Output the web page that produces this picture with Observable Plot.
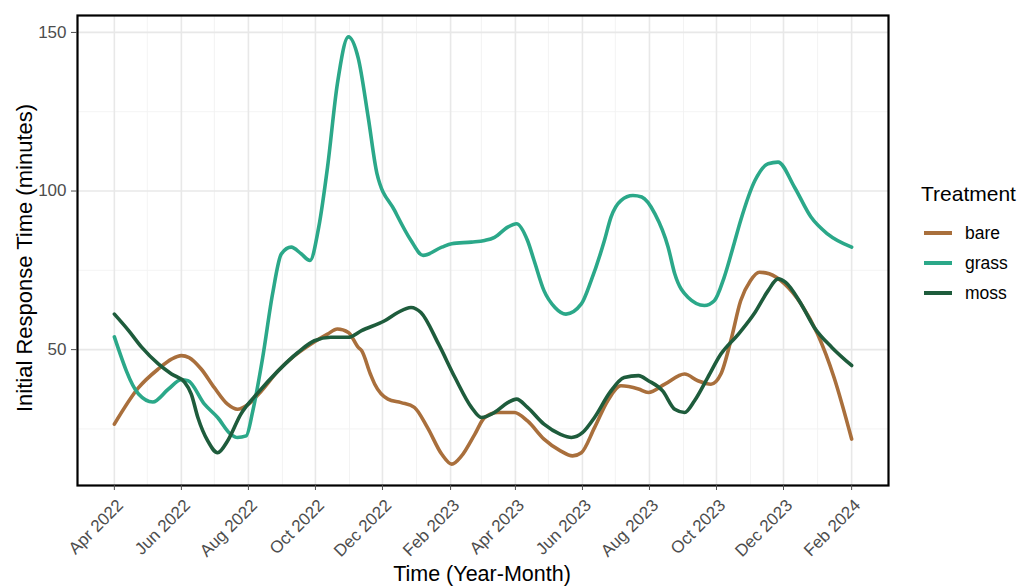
<!DOCTYPE html>
<html>
<head>
<meta charset="utf-8">
<script src="https://cdn.jsdelivr.net/npm/d3@7"></script>
<script src="https://cdn.jsdelivr.net/npm/@observablehq/plot@0.6"></script>
<style>
  html, body { margin: 0; padding: 0; background: #fff; }
  #wrap { position: relative; width: 1022px; height: 587px; overflow: hidden; font-family: "Liberation Sans", Arial, sans-serif; }
  .leg-title { position: absolute; left: 921px; top: 182px; font-size: 21px; color: #000; }
  .leg-item { position: absolute; left: 924px; height: 20px; font-size: 17.5px; color: #000; display: flex; align-items: center; }
  .leg-item span.sw { display: inline-block; width: 28px; height: 4px; margin-right: 13px; }
</style>
</head>
<body>
<div id="wrap"></div>
<script>
// ---- data ----
const treatments = ["bare", "grass", "moss"];
const colors = ["#A96F3C", "#2BA889", "#1E5C3C"];

const bareDates = ["2022-04-01","2022-04-23","2022-05-11","2022-05-23","2022-06-01","2022-06-08","2022-06-19","2022-07-01","2022-07-13","2022-07-22","2022-08-01","2022-08-13","2022-08-28","2022-09-12","2022-09-27","2022-10-12","2022-10-21","2022-10-31","2022-11-09","2022-11-12","2022-11-20","2022-11-24","2022-12-06","2022-12-18","2022-12-30","2023-01-11","2023-01-24","2023-02-02","2023-02-11","2023-02-23","2023-03-04","2023-03-16","2023-03-31","2023-04-12","2023-04-27","2023-05-12","2023-05-23","2023-05-31","2023-06-12","2023-06-24","2023-07-06","2023-07-22","2023-07-31","2023-08-15","2023-09-02","2023-09-14","2023-09-26","2023-10-05","2023-10-14","2023-10-23","2023-11-01","2023-11-09","2023-11-18","2023-12-02","2023-12-17","2024-01-01","2024-01-16","2024-02-01"];
const bareValues = [26.5,38,43.9,47.0,48.1,47.5,43.9,38.0,32.8,31.2,32.8,37,43.3,48.1,51.8,54.9,56.5,55.4,50.7,49.7,42.3,39.1,34.4,33.3,31.8,25.4,17.0,13.9,16.5,23.3,28.6,30.2,30.2,27.5,21.8,18.1,16.5,17.5,25.4,33.9,38.6,37.6,36.5,39.1,42.3,40.2,39.1,42.3,52.8,65.4,71.8,74.4,73.9,70.7,64.4,54.9,41.2,21.8];

const grassDates = ["2022-04-01","2022-04-23","2022-05-06","2022-05-20","2022-06-01","2022-06-07","2022-06-22","2022-07-04","2022-07-16","2022-07-22","2022-07-30","2022-08-05","2022-08-14","2022-08-23","2022-08-31","2022-09-09","2022-09-18","2022-09-26","2022-10-04","2022-10-12","2022-10-21","2022-10-31","2022-11-09","2022-11-18","2022-11-26","2022-12-12","2022-12-27","2023-01-07","2023-01-24","2023-02-02","2023-02-20","2023-03-04","2023-03-13","2023-03-25","2023-04-02","2023-04-12","2023-04-18","2023-04-27","2023-05-07","2023-05-17","2023-05-31","2023-06-09","2023-06-21","2023-06-27","2023-07-06","2023-07-17","2023-07-25","2023-08-06","2023-08-18","2023-08-24","2023-09-05","2023-09-20","2023-09-29","2023-10-08","2023-10-17","2023-10-23","2023-11-05","2023-11-17","2023-11-26","2023-12-11","2023-12-26","2024-01-10","2024-02-01"];
const grassValues = [54,36,33.5,37.5,40.5,40.2,32.8,28.6,23.3,22.3,22.8,30.7,47.5,67.6,80.2,82.3,80.2,78.1,88.6,107.5,133.9,148.6,141.8,123.3,105.5,93.9,84.4,79.7,82.3,83.4,83.9,84.4,85.4,88.6,89.7,84.4,78.1,68.6,63.3,61.2,64.4,71.8,84.4,91.8,97,98.6,98.1,92.8,82.3,73.9,66.5,63.9,65.4,72.8,83.4,90.7,103.3,108.6,109.1,101.2,91.8,86.5,82.3];

const mossDates = ["2022-04-01","2022-04-14","2022-04-26","2022-05-11","2022-05-23","2022-06-04","2022-06-10","2022-06-16","2022-06-25","2022-07-04","2022-07-13","2022-07-25","2022-08-10","2022-08-28","2022-09-15","2022-09-30","2022-10-15","2022-10-31","2022-11-12","2022-12-03","2022-12-15","2022-12-27","2023-01-05","2023-01-21","2023-02-05","2023-02-20","2023-03-01","2023-03-13","2023-03-25","2023-04-02","2023-04-12","2023-04-27","2023-05-12","2023-05-22","2023-06-01","2023-06-12","2023-06-26","2023-07-09","2023-07-22","2023-07-31","2023-08-13","2023-08-24","2023-09-02","2023-09-11","2023-09-23","2023-10-05","2023-10-21","2023-11-05","2023-11-17","2023-11-26","2023-12-03","2023-12-17","2023-12-29","2024-01-14","2024-02-01"];
const mossValues = [61.2,56.0,50.7,45.5,42.3,39.7,36.0,28.6,21.2,17.5,21.2,29.6,36.5,43.3,49.1,52.8,53.9,53.9,56.0,59.1,61.7,63.3,61.7,51.8,41.2,31.8,28.6,30.2,33.3,34.4,31.8,26.5,23.3,22.3,23.8,28.6,36.5,41.2,41.8,40.2,37,31.2,30.2,33.9,41.2,48.6,54.9,61.7,68.6,72.3,71.2,64.4,57.0,50.7,45.0];

const xTickDates = ["2022-04-01","2022-06-01","2022-08-01","2022-10-01","2022-12-01","2023-02-01","2023-04-01","2023-06-01","2023-08-01","2023-10-01","2023-12-01","2024-02-01"];
const xMinorDates = ["2022-05-01","2022-07-01","2022-09-01","2022-11-01","2023-01-01","2023-03-01","2023-05-01","2023-07-01","2023-09-01","2023-11-01","2024-01-01"];
const yTicks = [50, 100, 150];
const yMinor = [25, 75, 125];

// ---- build table ----
const series = {
  bare: [bareDates, bareValues],
  grass: [grassDates, grassValues],
  moss: [mossDates, mossValues]
};
const data = [];
for (const t of treatments) {
  const [ds, vs] = series[t];
  ds.forEach((d, i) => data.push({treatment: t, date: new Date(d), value: vs[i]}));
}
const parse = s => new Date(s);
const allDates = data.map(d => d.date);
const dMin = d3.min(allDates), dMax = d3.max(allDates);
const pad = (dMax - dMin) * 0.05;
const xDomain = [new Date(+dMin - pad), new Date(+dMax + pad)];
const vMin = d3.min(data, d => d.value), vMax = d3.max(data, d => d.value);
const vpad = (vMax - vMin) * 0.05;
const yDomain = [vMin - vpad, vMax + vpad];

const fmt = d3.utcFormat("%b %Y");

const chart = Plot.plot({
  width: 1022,
  height: 587,
  marginLeft: 77,
  marginRight: 134,
  marginTop: 15,
  marginBottom: 102,
  style: {fontFamily: "'Liberation Sans', Arial, sans-serif", background: "#fff"},
  x: {type: "utc", domain: xDomain},
  y: {domain: yDomain},
  color: {domain: treatments, range: colors},
  marks: [
    Plot.ruleY(yMinor, {stroke: "#f2f2f2", strokeWidth: 0.9}),
    Plot.ruleX(xMinorDates.map(parse), {stroke: "#f2f2f2", strokeWidth: 0.9}),
    Plot.ruleY(yTicks, {stroke: "#e8e8e8", strokeWidth: 1.6}),
    Plot.ruleX(xTickDates.map(parse), {stroke: "#e8e8e8", strokeWidth: 1.6}),
    Plot.line(data, {x: "date", y: "value", z: "treatment", stroke: "treatment", strokeWidth: 3.6, curve: "monotone-x"}),
    Plot.frame({stroke: "#000", strokeWidth: 2.2}),
    Plot.axisY(yTicks, {tickSize: 6, tickPadding: 5, color: "#4d4d4d", label: null}),
    Plot.axisX(xTickDates.map(parse), {tickSize: 5, tickPadding: 4, color: "#4d4d4d", tickRotate: -45, tickFormat: fmt, label: null})
  ]
});

const svg = d3.select(chart);
// tick label sizes to match the reference
svg.selectAll('g[aria-label="y-axis tick label"]').each(function() {
  d3.select(this).attr("font-size", 17).selectAll("text").style("font-size", "17px");
});
svg.selectAll('g[aria-label="x-axis tick label"]').each(function() {
  const g = d3.select(this);
  g.attr("font-size", 17).selectAll("text").style("font-size", "17px");
  const tr = g.attr("transform") || "";
  g.attr("transform", tr + " translate(6,8)");
});

svg.append("text")
  .attr("transform", "translate(32,258) rotate(-90)")
  .attr("text-anchor", "middle")
  .style("font-size", "22px")
  .attr("fill", "#000")
  .text("Initial Response Time (minutes)");
svg.append("text")
  .attr("x", 482).attr("y", 581)
  .attr("text-anchor", "middle")
  .style("font-size", "21.5px")
  .attr("fill", "#000")
  .text("Time (Year-Month)");

const wrap = document.getElementById("wrap");
wrap.appendChild(chart);

// legend
const lt = document.createElement("div");
lt.className = "leg-title";
lt.textContent = "Treatment";
wrap.appendChild(lt);
const legTops = [223, 253, 283];
treatments.forEach((t, i) => {
  const it = document.createElement("div");
  it.className = "leg-item";
  it.style.top = legTops[i] + "px";
  const sw = document.createElement("span");
  sw.className = "sw";
  sw.style.background = colors[i];
  it.appendChild(sw);
  const lab = document.createElement("span");
  lab.textContent = t;
  it.appendChild(lab);
  wrap.appendChild(it);
});
</script>
</body>
</html>
